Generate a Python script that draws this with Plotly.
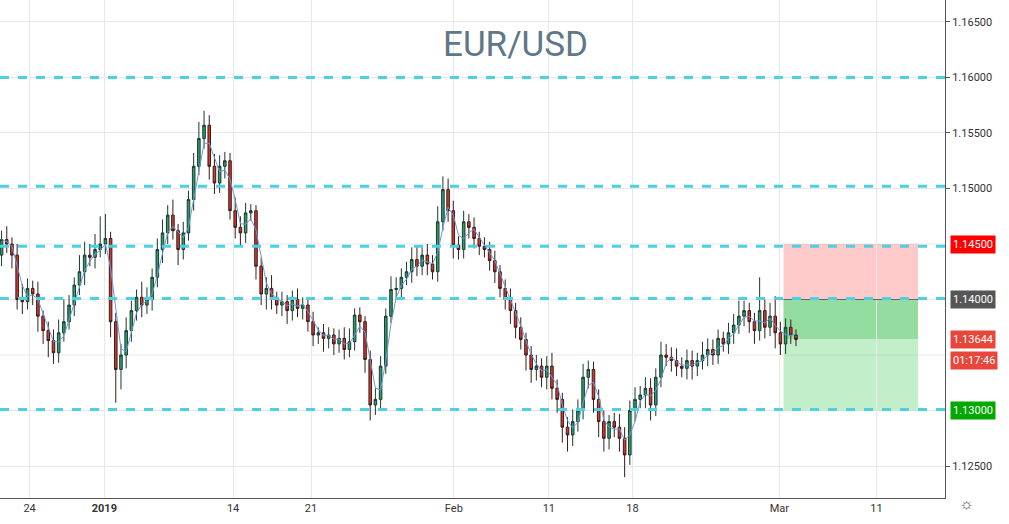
import plotly.graph_objects as go

# EUR/USD 8h bars, closes
closes = [1.1454, 1.1450, 1.1440, 1.1400, 1.1398, 1.1410, 1.1405, 1.1385, 1.1372, 1.1363,
          1.1352, 1.1370, 1.1380, 1.1395, 1.1413, 1.1425, 1.1440, 1.1438, 1.1445, 1.1450,
          1.1455, 1.1380, 1.1337, 1.1350, 1.1372, 1.1390, 1.1402, 1.1395, 1.1400, 1.1420,
          1.1445, 1.1460, 1.1476, 1.1462, 1.1445, 1.1460, 1.1490, 1.1520, 1.1545, 1.1557,
          1.1520, 1.1505, 1.1520, 1.1525, 1.1480, 1.1465, 1.1460, 1.1478, 1.1480, 1.1430,
          1.1405, 1.1410, 1.1400, 1.1395, 1.1398, 1.1390, 1.1400, 1.1392, 1.1395, 1.1380,
          1.1368, 1.1370, 1.1365, 1.1368, 1.1360, 1.1365, 1.1355, 1.1362, 1.1386, 1.1380,
          1.1346, 1.1305, 1.1310, 1.1340, 1.1385, 1.1409, 1.1410, 1.1420, 1.1425, 1.1436,
          1.1430, 1.1440, 1.1432, 1.1425, 1.1470, 1.1499, 1.1480, 1.1449, 1.1445, 1.1470,
          1.1465, 1.1455, 1.1448, 1.1445, 1.1435, 1.1425, 1.1410, 1.1400, 1.1390, 1.1375,
          1.1364, 1.1350, 1.1337, 1.1340, 1.1330, 1.1340, 1.1320, 1.1310, 1.1285, 1.1278,
          1.1290, 1.1300, 1.1330, 1.1337, 1.1310, 1.1290, 1.1275, 1.1290, 1.1285, 1.1275,
          1.1260, 1.1300, 1.1310, 1.1314, 1.1320, 1.1305, 1.1330, 1.1350, 1.1348, 1.1345,
          1.1340, 1.1338, 1.1345, 1.1340, 1.1345, 1.1350, 1.1355, 1.1350, 1.1365, 1.1360,
          1.1370, 1.1377, 1.1385, 1.1390, 1.1380, 1.1372, 1.1390, 1.1375, 1.1385, 1.1370,
          1.1360, 1.1375, 1.1368, 1.1364]
opens = [1.1440] + closes[:-1]
# wick extensions in pips above/below the body
wick_up = [8, 12, 6, 10, 14, 9, 7, 11, 5, 8, 10, 12, 20, 9, 7, 15, 12, 10, 14, 25,
           22, 6, 8, 10, 12, 9, 7, 14, 11, 8, 10, 12, 9, 14, 6, 10, 8, 12, 15, 13,
           9, 11, 10, 8, 7, 12, 10, 9, 6, 5, 8, 10, 12, 7, 9, 6, 8, 10, 7, 6,
           9, 5, 8, 7, 6, 8, 10, 12, 6, 7, 5, 8, 10, 9, 7, 12, 10, 8, 9, 11,
           13, 9, 10, 8, 14, 12, 10, 9, 8, 10, 7, 9, 6, 8, 7, 9, 6, 8, 10, 7,
           9, 6, 8, 10, 7, 9, 12, 8, 6, 9, 11, 10, 12, 8, 7, 9, 10, 6, 8, 12,
           10, 9, 11, 8, 10, 9, 8, 12, 10, 9, 11, 8, 10, 9, 7, 12, 10, 9, 8, 6,
           9, 10, 14, 9, 7, 8, 30, 10, 12, 18, 10, 8, 7, 5]
wick_dn = [10, 8, 12, 9, 11, 7, 10, 14, 12, 15, 10, 9, 8, 7, 10, 9, 12, 8, 10, 7,
           9, 14, 30, 18, 12, 10, 9, 11, 8, 10, 9, 12, 10, 8, 14, 9, 7, 10, 8, 9,
           12, 10, 9, 11, 8, 10, 12, 9, 7, 12, 10, 14, 9, 8, 10, 12, 9, 8, 10, 9,
           10, 8, 12, 9, 10, 8, 9, 7, 8, 10, 12, 14, 9, 8, 7, 6, 9, 8, 7, 10,
           9, 8, 10, 7, 9, 8, 10, 12, 9, 8, 10, 9, 8, 7, 9, 10, 8, 9, 12, 10,
           9, 14, 12, 10, 9, 11, 10, 12, 14, 15, 10, 9, 8, 10, 12, 14, 12, 10, 9, 12,
           20, 9, 10, 8, 12, 14, 10, 9, 8, 10, 9, 8, 10, 12, 9, 8, 10, 9, 8, 7,
           9, 10, 8, 9, 10, 12, 9, 10, 8, 14, 10, 9, 8, 6]

highs = [max(o, c) + u / 10000 for o, c, u in zip(opens, closes, wick_up)]
lows = [min(o, c) - d / 10000 for o, c, d in zip(opens, closes, wick_dn)]
bars = list(range(len(closes)))
sma = [sum(closes[max(0, i - 2):i + 1]) / len(closes[max(0, i - 2):i + 1]) for i in bars]

levels = [1.1600, 1.1502, 1.1448, 1.1401, 1.1301]
stop, entry, target, last = 1.1450, 1.1400, 1.1300, 1.13644
tick_pos = [5.4, 19.8, 44.6, 59.6, 87.1, 105.4, 121.5, 149.8, 168.5]
tick_txt = ["24", "<b>2019</b>", "14", "21", "Feb", "11", "18", "Mar", "11"]
price_ticks = [1.125, 1.15, 1.155, 1.16, 1.165]
hidden_grid = [1.13, 1.135, 1.14, 1.145]  # grid rows whose tick labels sit under price tags

fig = go.Figure()
for g in hidden_grid:
    fig.add_shape(type="line", xref="paper", x0=0, x1=1, y0=g, y1=g, line=dict(color="#e8e8e8", width=1), layer="below")
box_x0, box_x1 = 150.6, 176.5
fig.add_shape(type="rect", x0=box_x0, x1=box_x1, y0=entry, y1=stop, fillcolor="rgba(255,80,80,0.3)", line_width=0, layer="below")
fig.add_shape(type="rect", x0=box_x0, x1=box_x1, y0=target, y1=entry, fillcolor="rgba(80,210,100,0.35)", line_width=0, layer="below")
fig.add_shape(type="rect", x0=box_x0, x1=box_x1, y0=last, y1=entry, fillcolor="rgba(40,180,70,0.3)", line_width=0, layer="below")
fig.add_shape(type="line", x0=box_x0, x1=box_x1, y0=entry, y1=entry, line=dict(color="#666", width=1))
for lv in levels:
    fig.add_shape(type="line", xref="paper", x0=0, x1=1, y0=lv, y1=lv, line=dict(color="#4dd0e1", width=3, dash="dash"))

fig.add_trace(go.Scatter(x=bars, y=sma, mode="lines", line=dict(color="#6a9ad8", width=1), hoverinfo="skip"))
fig.add_trace(go.Candlestick(x=bars, open=opens, high=highs, low=lows, close=closes,
                             increasing=dict(fillcolor="#2a9d70", line=dict(color="#1b3a2e", width=1)),
                             decreasing=dict(fillcolor="#d0392b", line=dict(color="#3a1b1b", width=1)),
                             whiskerwidth=0))

labels = [(stop, "1.14500", "#ff0000"), (entry, "1.14000", "#555555"),
          (last, "1.13644", "#e8463a"), (target, "1.13000", "#00a800")]
for y, t, c in labels:
    fig.add_annotation(x=1.005, xref="paper", y=y, yref="y", text=t, showarrow=False, xanchor="left",
                       bgcolor=c, font=dict(color="white", size=11, family="Roboto"), borderpad=2)
fig.add_annotation(x=1.005, xref="paper", y=last - 0.0019, yref="y", text="01:17:46", showarrow=False,
                   xanchor="left", bgcolor="#e8463a", font=dict(color="white", size=11, family="Roboto"), borderpad=2)
fig.add_annotation(x=0.545, xref="paper", y=0.955, yref="paper", text="EUR/USD", showarrow=False,
                   font=dict(size=35, color="#5e7887", family="Roboto"))
fig.add_annotation(x=1.033, xref="paper", y=-0.035, yref="paper", text="☼", showarrow=False,
                   font=dict(size=16, color="#555"))

fig.update_layout(width=1009, height=524, margin=dict(l=0, r=64, t=0, b=26),
                  plot_bgcolor="white", paper_bgcolor="white", showlegend=False,
                  font=dict(family="Roboto", size=11, color="#333"))
fig.update_xaxes(range=[-0.3, 181.7], tickvals=tick_pos, ticktext=tick_txt, showgrid=True, gridcolor="#e8e8e8",
                 rangeslider_visible=False, showline=True, linecolor="#555", ticks="", zeroline=False)
fig.update_yaxes(range=[1.12212, 1.16698], side="right", tickvals=price_ticks, tickformat=".5f",
                 showgrid=True, gridcolor="#e8e8e8", showline=True, linecolor="#555", ticks="outside",
                 ticklen=4, tickcolor="#555", zeroline=False)

fig.write_html("out.html", config={"displayModeBar": False}, post_script="document.body.style.margin='0';")
